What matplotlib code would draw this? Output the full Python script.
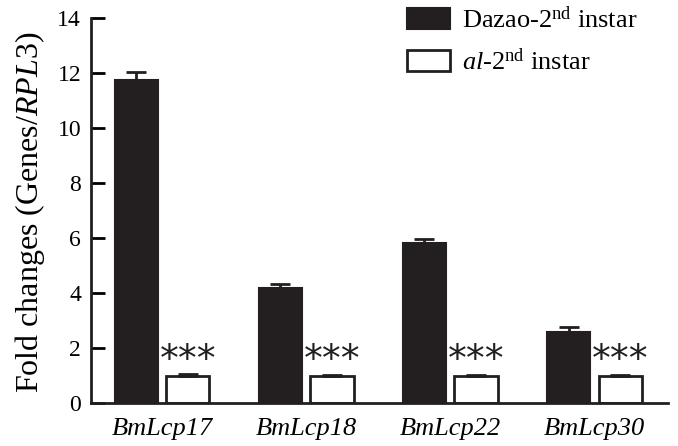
import matplotlib
matplotlib.use("Agg")
import matplotlib.pyplot as plt
import numpy as np

plt.rcParams['font.family'] = 'Liberation Serif'
plt.rcParams['mathtext.fontset'] = 'custom'
plt.rcParams['mathtext.rm'] = 'Liberation Serif'
plt.rcParams['mathtext.it'] = 'Liberation Serif:italic'

genes = ['BmLcp17', 'BmLcp18', 'BmLcp22', 'BmLcp30']
dazao = [11.75, 4.2, 5.82, 2.58]
dazao_err = [0.3, 0.12, 0.16, 0.2]
al = [1.0, 1.0, 1.0, 1.0]
al_err = [0.06, 0.04, 0.04, 0.03]
stars = ['***', '***', '***', '***']

x = np.arange(len(genes))
w = 0.3
off = 0.179
dark = '#231f20'

fig = plt.figure(figsize=(6.78, 4.46), dpi=100)
ax = fig.add_axes([0.134, 0.096, 0.851, 0.863])

ekw = dict(ecolor=dark, elinewidth=2, capsize=7, capthick=2)
ax.bar(x - off, dazao, w, color=dark, edgecolor=dark, linewidth=1.5,
       yerr=[np.zeros(4), dazao_err], error_kw=ekw,
       label=r'Dazao-2$^{\rm nd}$ instar')
ax.bar(x + off, al, w, color='white', edgecolor=dark, linewidth=2,
       yerr=[np.zeros(4), al_err], error_kw=ekw,
       label=r'$\it{al}$-2$^{\rm nd}$ instar')

# significance marks over the al bars
for i, s in enumerate(stars):
    ax.text(x[i] + off, 1.55, s, ha='center', va='center', fontsize=27,
            family='DejaVu Sans', color=dark)

ax.set_xlim(-0.494, 3.51)
ax.set_ylim(0, 14)
ax.set_yticks(range(0, 15, 2))
ax.set_xticks(x)
ax.set_xticklabels(genes, style='italic', fontsize=19)
ax.tick_params(axis='x', length=0, pad=11)
ax.tick_params(axis='y', direction='in', length=10, width=2, labelsize=17, pad=7)
for sp in ['top', 'right']:
    ax.spines[sp].set_visible(False)
for sp in ['left', 'bottom']:
    ax.spines[sp].set_linewidth(2)
    ax.spines[sp].set_color(dark)

fig.text(30 / 678, 0.525, r'Fold changes (Genes/$\it{RPL3}$)', rotation=90,
         ha='center', va='center', fontsize=23)

ax.legend(loc='upper left', bbox_to_anchor=(407 / 678, 1 - 6 / 446),
          bbox_transform=fig.transFigure, frameon=False, fontsize=19,
          borderpad=0, borderaxespad=0,
          handlelength=1.63, handleheight=0.83, handletextpad=0.45, labelspacing=0.6)

fig.savefig('out.png', dpi=100)
